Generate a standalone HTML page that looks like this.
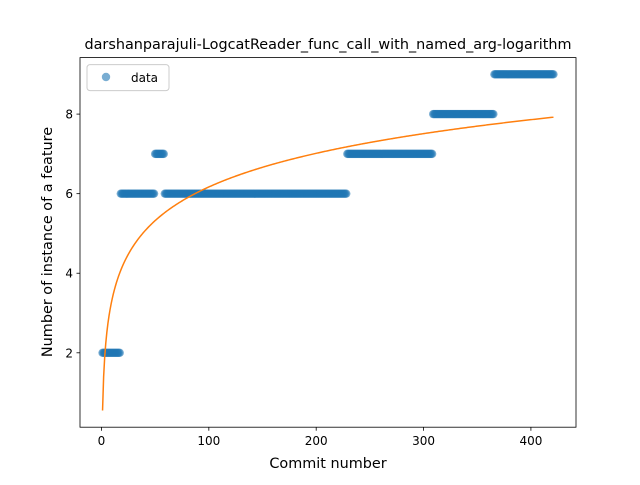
<!DOCTYPE html>
<html><head><meta charset="utf-8"><style>
body{margin:0;background:#fff}
svg text{font-family:"DejaVu Sans","Liberation Sans",sans-serif;fill:#000}
</style></head><body>
<svg id="chart" width="640" height="480">
<rect width="640" height="480" fill="#fff"/>
<g id="marks"></g>
<rect x="80" y="57.6" width="496" height="369.6" fill="none" stroke="#000" stroke-width="0.8"/>
<g id="axes"></g>
<text x="328" y="49" text-anchor="middle" font-size="14.4">darshanparajuli-LogcatReader_func_call_with_named_arg-logarithm</text>
<text x="328" y="468" text-anchor="middle" font-size="14.4">Commit number</text>
<text transform="translate(52,242) rotate(-90)" text-anchor="middle" font-size="14.4">Number of instance of a feature</text>
<g>
<rect x="87" y="64.6" width="82" height="26" rx="3" fill="#fff" fill-opacity="0.8" stroke="#ccc"/>
<circle cx="106" cy="77" r="4.2" fill="#1f77b4" fill-opacity="0.6"/>
<text x="131" y="82" font-size="12">data</text>
</g>
</svg>
<script>
const runValues=[2,6,7,6,7,8,9];
const runLengths=[17,32,9,170,80,57,56];
const xTicks=[0,100,200,300,400];
const yTicks=[2,4,6,8];
const fitA=0.55, fitB=1.22;
const NS="http://www.w3.org/2000/svg";
const sx=v=>80+(v+20)*496/462;
const sy=v=>427.2-(v-0.13)*369.6/9.29;
const marks=document.getElementById('marks');
const axes=document.getElementById('axes');
function mk(tag,attrs,parent){const e=document.createElementNS(NS,tag);for(const k in attrs)e.setAttribute(k,attrs[k]);parent.appendChild(e);return e;}
let x=1;
for(let r=0;r<runValues.length;r++){
  for(let i=0;i<runLengths[r];i++){
    const c=mk('circle',{cx:sx(x),cy:sy(runValues[r]),r:4.2,fill:'#1f77b4','fill-opacity':0.6},marks);
    
    
    x++;
  }
}
const nMax=x-1;
let d='';
for(let i=1;i<=nMax;i++){d+=(i===1?'M':'L')+sx(i).toFixed(2)+','+sy(fitA+fitB*Math.log(i)).toFixed(2);}
const p=mk('path',{d:d,fill:'none',stroke:'#ff7f0e','stroke-width':1.5},marks);


xTicks.forEach(t=>{
  const l=mk('line',{x1:sx(t),x2:sx(t),y1:427.2,y2:430.7,stroke:'#000','stroke-width':0.8},axes);
  
  
  const tx=mk('text',{x:sx(t),y:445,'text-anchor':'middle','font-size':12},axes);
  tx.textContent=t;
  
  
});
yTicks.forEach(t=>{
  const l=mk('line',{x1:76.5,x2:80,y1:sy(t),y2:sy(t),stroke:'#000','stroke-width':0.8},axes);
  
  
  const tx=mk('text',{x:73,y:sy(t)+4.5,'text-anchor':'end','font-size':12},axes);
  tx.textContent=t;
  
  
});
</script>
</body></html>
